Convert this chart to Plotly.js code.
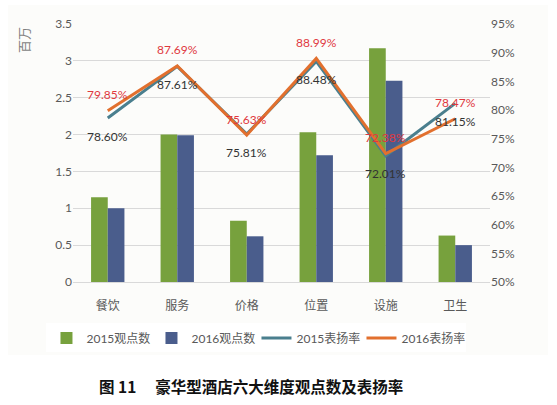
<!DOCTYPE html>
<html><head><meta charset="utf-8">
<script src="https://cdn.plot.ly/plotly-3.0.1.min.js"></script>
<style>html,body{margin:0;padding:0;background:#fff;}</style>
</head><body>
<div id="chart" style="width:557px;height:405px;"></div>
<script>
const categories = ['餐饮','服务','价格','位置','设施','卫生'];
const views2015 = [1.15, 2.00, 0.83, 2.03, 3.17, 0.63];
const views2016 = [1.00, 1.99, 0.62, 1.72, 2.73, 0.50];
const rate2015 = [0.7860, 0.8761, 0.7581, 0.8848, 0.7201, 0.8115];
const rate2016 = [0.7985, 0.8769, 0.7563, 0.8899, 0.7238, 0.7847];
const leftTicks = [0, 0.5, 1, 1.5, 2, 2.5, 3, 3.5];
const leftTickText = ['0','0.5','1','1.5','2','2.5','3','3.5'];
const rightTicks = [0.50,0.55,0.60,0.65,0.70,0.75,0.80,0.85,0.90,0.95];

const pct = v => (v*100).toFixed(2) + '%';
const FONT = 'Lato, "Noto Sans CJK SC", sans-serif';

const traces = [
  {type:'bar', name:'2015观点数', x:categories, y:views2015, marker:{color:'#77a13d'}, hoverinfo:'none'},
  {type:'bar', name:'2016观点数', x:categories, y:views2016, marker:{color:'#4a5d8c'}, hoverinfo:'none'},
  {type:'scatter', mode:'lines', name:'2015表扬率', x:categories, y:rate2015, yaxis:'y2',
   line:{color:'#4a7f8e', width:3}, hoverinfo:'none'},
  {type:'scatter', mode:'lines', name:'2016表扬率', x:categories, y:rate2016, yaxis:'y2',
   line:{color:'#e2702e', width:3}, hoverinfo:'none'}
];

const labelAnns = [];
categories.forEach((c, i) => {
  labelAnns.push({x:c, y:rate2015[i], xref:'x', yref:'y2', text:pct(rate2015[i]), showarrow:false,
    yshift:-18, font:{size:12, color:'#333333', family:FONT}});
  labelAnns.push({x:c, y:rate2016[i], xref:'x', yref:'y2', text:pct(rate2016[i]), showarrow:false,
    yshift:16, font:{size:12, color:'#e0383e', family:FONT}});
});

const layout = {
  width:557, height:405,
  margin:{l:73, r:67, t:24, b:123},
  paper_bgcolor:'#ffffff', plot_bgcolor:'rgba(0,0,0,0)',
  font:{family:FONT, color:'#595959', size:12},
  barmode:'group', bargap:0.52, bargroupgap:0,
  showlegend:true,
  legend:{orientation:'h', x:0.44, xanchor:'center', y:-0.217, yanchor:'middle',
          font:{size:12, color:'#595959'}, traceorder:'normal',
          entrywidth:60, entrywidthmode:'pixels', itemwidth:30},
  xaxis:{type:'category', showgrid:false, showline:true, linecolor:'#d9d9d9', linewidth:1,
         ticks:'', tickfont:{size:12, color:'#595959'}, ticklabelstandoff:13, zeroline:false},
  yaxis:{range:[0,3.5], tickvals:leftTicks, ticktext:leftTickText, showgrid:true, gridcolor:'#d9d9d9',
         gridwidth:1, zeroline:false, showline:false, ticks:'', tickfont:{size:12, color:'#595959'}},
  yaxis2:{overlaying:'y', side:'right', range:[0.5,0.95], tickvals:rightTicks, tickformat:'.0%',
          showgrid:false, zeroline:false, showline:false, ticks:'', tickfont:{size:12, color:'#595959'}},
  shapes:[{type:'rect', xref:'paper', yref:'paper', layer:'below',
           x0:-65/417, x1:(548-73)/417, y0:(282-355)/258, y1:(282-5)/258,
           fillcolor:'#fcfcfa', line:{width:0}}],
  annotations:labelAnns.concat([
    {text:'百万', xref:'paper', yref:'paper', x:(24-73)/417, y:(282-40)/258, textangle:-90,
     showarrow:false, font:{size:13, color:'#7f7f7f', family:FONT}, xanchor:'center', yanchor:'middle'},
    {text:'<b>图 11　 豪华型酒店六大维度观点数及表扬率</b>', xref:'paper', yref:'paper',
     x:(251-73)/417, y:(282-386)/258, showarrow:false, xanchor:'center', yanchor:'middle',
     font:{size:15.5, color:'#111111', family:'"Noto Sans CJK SC", sans-serif'}}
  ])
};

Plotly.newPlot('chart', traces, layout, {displayModeBar:false, staticPlot:true});
</script>
</body></html>
